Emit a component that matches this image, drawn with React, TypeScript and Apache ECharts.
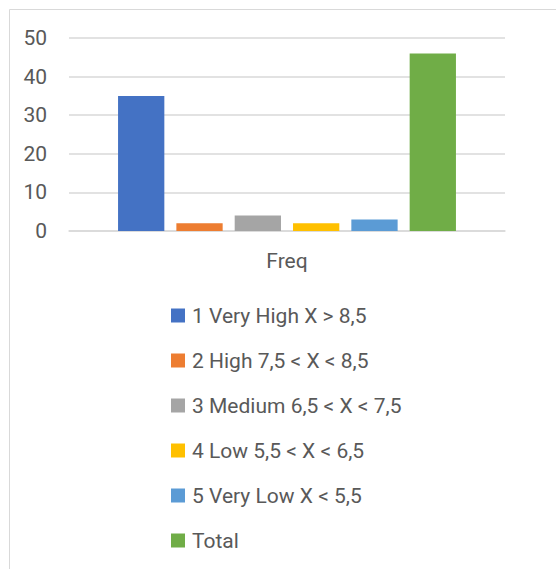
import React, { useEffect, useRef } from "react";
import * as echarts from "echarts";

const categories = ["Freq"];
const seriesNames = [
  "1 Very High X > 8,5",
  "2 High 7,5 < X < 8,5",
  "3 Medium 6,5 < X < 7,5",
  "4 Low 5,5 < X < 6,5",
  "5 Very Low X < 5,5",
  "Total",
];
const seriesValues = [35, 2, 4, 2, 3, 46];
const colors = ["#4472C4", "#ED7D31", "#A5A5A5", "#FFC000", "#5B9BD5", "#70AD47"];

const FONT = "Roboto, 'Liberation Sans', sans-serif";

export default function App() {
  const ref = useRef<HTMLDivElement>(null);
  useEffect(() => {
    const chart = echarts.init(ref.current!, null, { renderer: "svg" });
    chart.setOption({
      animation: false,
      backgroundColor: "#ffffff",
      graphic: [
        {
          type: "rect",
          shape: { x: 9.5, y: 9.5, width: 600, height: 600 },
          style: { fill: "none", stroke: "#d9d9d9", lineWidth: 1 },
          silent: true,
        },
      ],
      grid: { left: 69, right: 51, top: 38, bottom: 338 },
      legend: {
        orient: "vertical",
        left: 166,
        top: 300,
        itemWidth: 14,
        itemHeight: 14,
        itemGap: 24,
        icon: "rect",
        textStyle: { color: "#595959", fontSize: 21, fontFamily: FONT, lineHeight: 21, padding: [0, 0, 0, 2] },
        data: seriesNames,
      },
      xAxis: {
        type: "category",
        data: categories,
        axisLine: { lineStyle: { color: "#d9d9d9", width: 1.5 } },
        axisTick: { show: false },
        axisLabel: { color: "#595959", fontSize: 21, fontFamily: FONT, margin: 19 },
      },
      yAxis: {
        type: "value",
        min: 0,
        max: 50,
        interval: 10,
        axisLine: { show: false },
        axisTick: { show: false },
        axisLabel: { color: "#595959", fontSize: 21, fontFamily: FONT, margin: 22 },
        splitLine: { lineStyle: { color: "#d9d9d9", width: 1.5 } },
      },
      series: seriesNames.map((name, i) => ({
        type: "bar",
        name,
        data: [seriesValues[i]],
        itemStyle: { color: colors[i] },
        barGap: "26%",
        barCategoryGap: "22.5%",
      })),
    });
    return () => chart.dispose();
  }, []);
  return (
    <div
      ref={ref}
      style={{ position: "absolute", left: 0, top: 0, width: 556, height: 569 }}
    />
  );
}
